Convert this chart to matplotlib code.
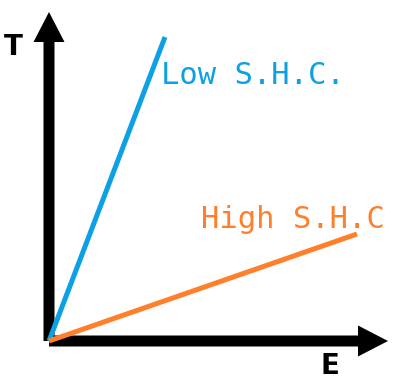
import matplotlib.pyplot as plt

# Energy (E) vs temperature (T) end points for the two materials
low_shc_E = [0, 116]
low_shc_T = [0, 304]
high_shc_E = [0, 308]
high_shc_T = [0, 107]

blue = '#0ca0e4'
orange = '#ff7f2a'

fig = plt.figure(figsize=(3.98, 3.87), dpi=100)
ax = fig.add_axes([0, 0, 1, 1])
ax.set_xlim(-49, 349)
ax.set_ylim(-46, 341)
ax.axis('off')

# axis arrows
ax.arrow(0, 0, 0, 329, width=11, head_width=31, head_length=30,
         length_includes_head=True, color='black', lw=0)
ax.arrow(0, 0, 339, 0, width=11, head_width=31, head_length=30,
         length_includes_head=True, color='black', lw=0)

ax.plot(low_shc_E, low_shc_T, color=blue, lw=3.6, solid_capstyle='butt', zorder=3)
ax.plot(high_shc_E, high_shc_T, color=orange, lw=3.6, solid_capstyle='butt', zorder=3)

ax.text(-36, 294, 'T', fontsize=20, fontweight='bold', ha='center', va='center')
ax.text(281, -25, 'E', fontsize=20, fontweight='bold', ha='center', va='center')

ax.text(112, 257, 'Low S.H.C.', family='DejaVu Sans Mono', fontsize=22,
        color=blue, ha='left', va='baseline')
ax.text(152, 113, 'High S.H.C', family='DejaVu Sans Mono', fontsize=22,
        color=orange, ha='left', va='baseline')

plt.savefig('out.png', dpi=100)
